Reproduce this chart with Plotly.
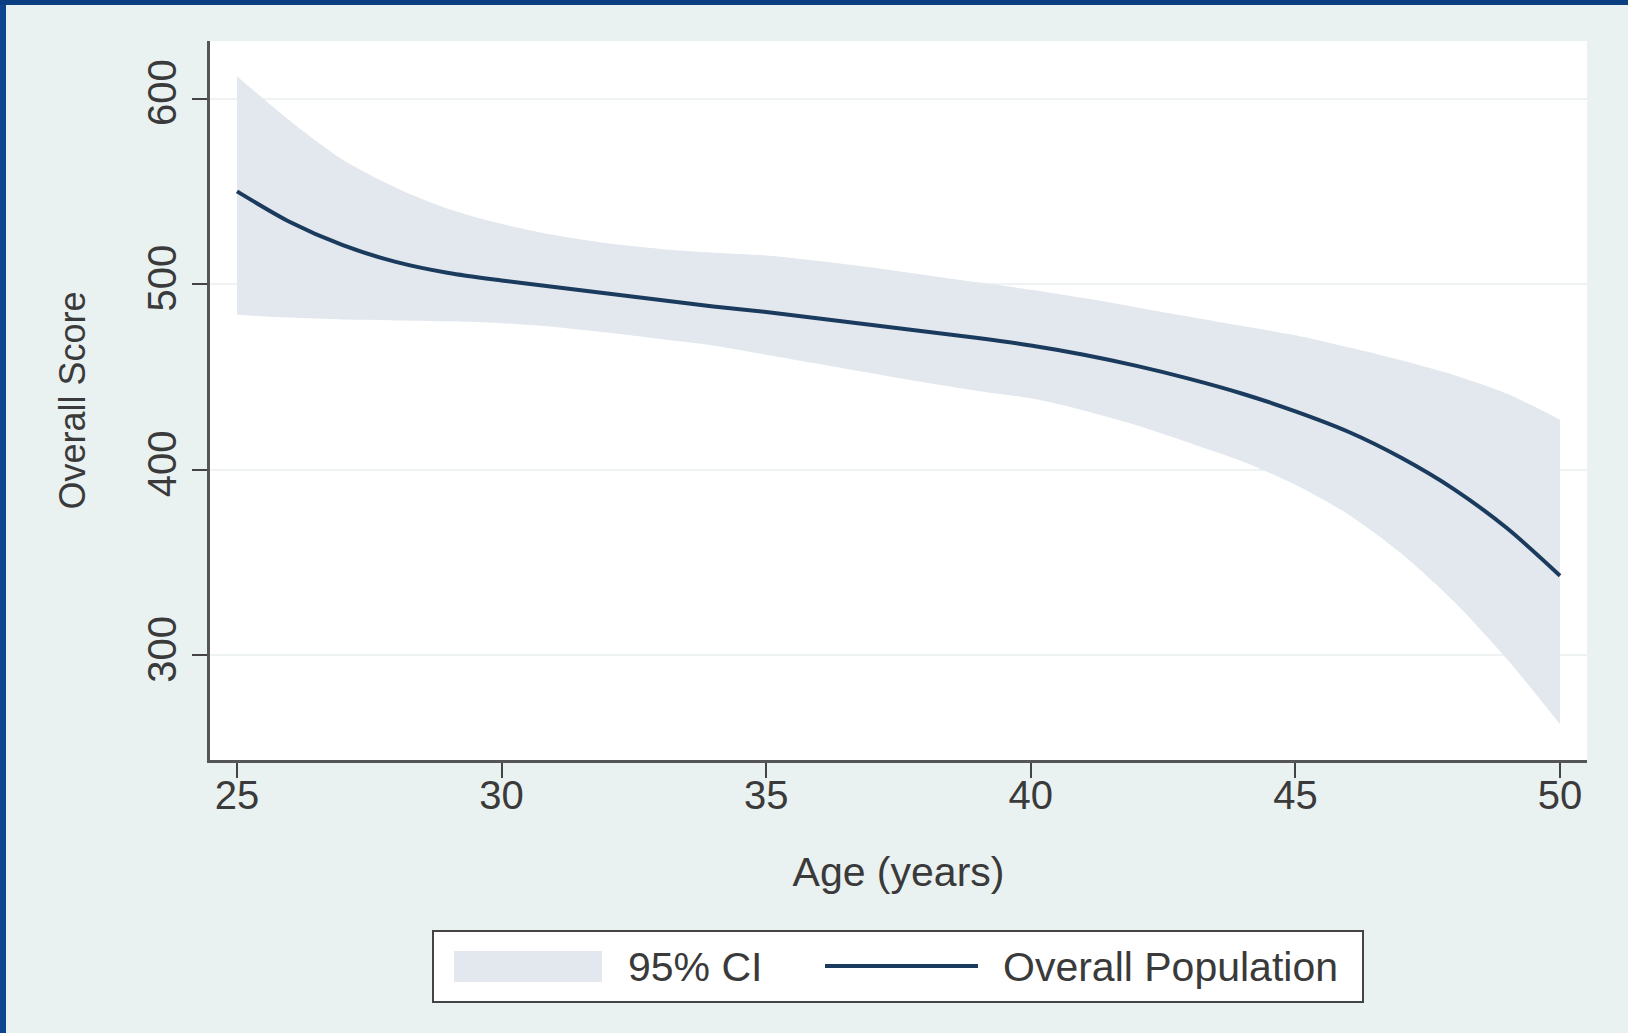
import plotly.graph_objects as go

# Fitted overall score by age with its 95% confidence band
age = [25, 26, 27, 28, 29, 30, 31, 32, 33, 34, 35, 36, 37, 38,
       39, 40, 41, 42, 43, 44, 45, 46, 47, 48, 49, 50]
score = [550, 533.5, 521, 512, 506, 502, 498.5, 495, 491.5, 488, 485, 481.5, 478, 474.5,
         471, 467, 462, 456, 449, 441, 431.5, 420.5, 406.5, 389.5, 368.5, 343]
ci_upper = [612, 588, 567, 552, 540.5, 532.5, 526.5, 522, 519, 517, 515.5, 512.5, 509, 505,
            501, 497, 492.5, 487.5, 482.5, 477.5, 472.5, 466, 459, 451, 441, 427]
ci_lower = [483.5, 482, 481, 480.5, 480, 479, 477, 474, 470.5, 467, 462, 457, 452, 447,
            442.5, 438.5, 432, 424, 414.5, 404.5, 392, 376, 355, 329, 298, 263]

x_ticks = [25, 30, 35, 40, 45, 50]
y_ticks = [300, 400, 500, 600]
legend_labels = ["95% CI", "Overall Population"]

TEXT = "#3a3a3a"
FONT = "Liberation Sans, Arial, sans-serif"
BAND = "#e2e8ed"
LINE = "#1b3b5e"
W, H = 1628, 1033
L, R, T, B = 210, 41, 41, 273

fig = go.Figure()

fig.add_trace(go.Scatter(
    x=age, y=ci_upper, mode="lines", line=dict(width=0, shape="spline", smoothing=0.8),
    showlegend=False, hoverinfo="skip"))
fig.add_trace(go.Scatter(
    x=age, y=ci_lower, mode="lines", line=dict(width=0, shape="spline", smoothing=0.8),
    fill="tonexty", fillcolor=BAND, name=legend_labels[0], showlegend=False))
fig.add_trace(go.Scatter(
    x=age, y=score, mode="lines", line=dict(color=LINE, width=4, shape="spline", smoothing=0.8),
    name=legend_labels[1], showlegend=False))

# pixel -> paper coordinate helpers for page furniture
pw, ph = W - L - R, H - T - B
def px_x(p):
    return (p - L) / pw
def px_y(p):
    return (H - B - p) / ph

shapes = [
    # frame strips along the left and top edges of the page
    dict(type="rect", xref="paper", yref="paper", x0=px_x(0), x1=px_x(6), y0=px_y(H), y1=px_y(0),
         fillcolor="#0c4590", line=dict(width=0), layer="above"),
    dict(type="rect", xref="paper", yref="paper", x0=px_x(0), x1=px_x(W), y0=px_y(5), y1=px_y(0),
         fillcolor="#0c3f82", line=dict(width=0), layer="above"),
    # legend box
    dict(type="rect", xref="paper", yref="paper", x0=px_x(433), x1=px_x(1363),
         y0=px_y(1002), y1=px_y(931), fillcolor="#ffffff", line=dict(color="#444", width=2)),
    # legend keys: band swatch and line sample
    dict(type="rect", xref="paper", yref="paper", x0=px_x(454), x1=px_x(602),
         y0=px_y(982), y1=px_y(951), fillcolor=BAND, line=dict(width=0)),
    dict(type="line", xref="paper", yref="paper", x0=px_x(825), x1=px_x(978),
         y0=px_y(966), y1=px_y(966), line=dict(color=LINE, width=4)),
]

annotations = [
    dict(text=legend_labels[0], xref="paper", yref="paper", x=px_x(626), y=px_y(967),
         xanchor="left", yanchor="middle", showarrow=False, font=dict(size=41, color=TEXT)),
    dict(text=legend_labels[1], xref="paper", yref="paper", x=px_x(1001), y=px_y(967),
         xanchor="left", yanchor="middle", showarrow=False, font=dict(size=41, color=TEXT)),
]

fig.update_layout(
    width=W, height=H,
    margin=dict(l=L, r=R, t=T, b=B),
    paper_bgcolor="#e9f1f1",
    plot_bgcolor="#ffffff",
    font=dict(family=FONT, size=40, color=TEXT),
    shapes=shapes,
    annotations=annotations,
    showlegend=False,
    xaxis=dict(
        range=[24.49, 50.51], tickvals=x_ticks, ticks="outside", ticklen=15, tickwidth=2,
        tickcolor="#444", showline=True, linecolor="#555", linewidth=3, showgrid=False,
        zeroline=False, ticklabelstandoff=-17,
        title=dict(text="Age (years)", standoff=42, font=dict(size=41)),
        tickfont=dict(size=40),
    ),
    yaxis=dict(
        range=[243.7, 631], tickvals=y_ticks, ticks="outside", ticklen=15, tickwidth=2,
        tickcolor="#444", showline=True, linecolor="#555", linewidth=3, showgrid=True,
        gridcolor="#eef2f2", gridwidth=2, zeroline=False, tickangle=-90,
        title=dict(text="Overall Score", standoff=44, font=dict(size=36)),
        tickfont=dict(size=40),
    ),
)

fig.write_html("out.html")
